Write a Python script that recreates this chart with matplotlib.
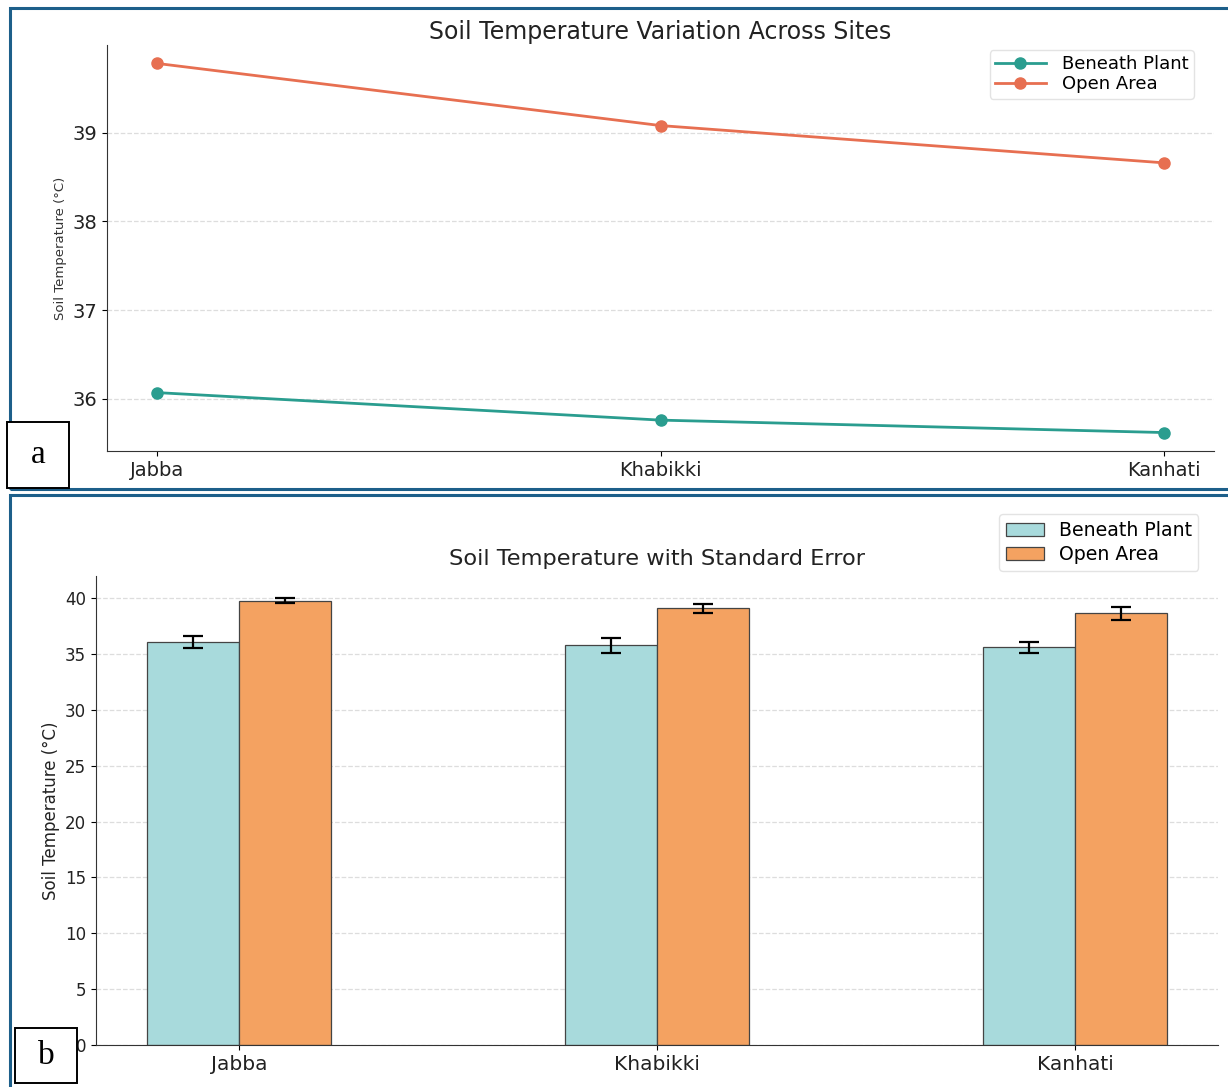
import numpy as np
import matplotlib.pyplot as plt
from matplotlib.patches import Rectangle

# Mean soil temperature (°C) per site and standard error
sites = ["Jabba", "Khabikki", "Kanhati"]
beneath_plant = [36.07, 35.76, 35.62]
open_area = [39.78, 39.08, 38.66]
beneath_se = [0.52, 0.69, 0.49]
open_se = [0.20, 0.39, 0.58]

teal_line = "#2a9d8f"
orange_line = "#e76f51"
teal_bar = "#a8dadc"
orange_bar = "#f4a261"
frame_col = "#1d5f8a"

W, H = 1228, 1087
fig = plt.figure(figsize=(W / 100, H / 100), dpi=100)

def fx(px):
    return px / W

def fy(px):
    return 1 - px / H

# panel frames
fig.patches.append(Rectangle((fx(10), fy(489)), fx(1240) - fx(10), fy(8) - fy(489),
                             transform=fig.transFigure, fill=False,
                             edgecolor=frame_col, lw=2.2, zorder=0))
fig.patches.append(Rectangle((fx(10), fy(1100)), fx(1240) - fx(10), fy(495) - fy(1100),
                             transform=fig.transFigure, fill=False,
                             edgecolor=frame_col, lw=2.2, zorder=0))

x = np.arange(len(sites))

# (a) line chart
ax1 = fig.add_axes([fx(107), fy(451), fx(1214) - fx(107), fy(45) - fy(451)])
ax1.plot(x, beneath_plant, marker="o", color=teal_line, lw=2, ms=8, label="Beneath Plant")
ax1.plot(x, open_area, marker="o", color=orange_line, lw=2, ms=8, label="Open Area")
ax1.set_xticks(x)
ax1.set_xticklabels(sites, fontsize=14, color="#222222")
ax1.set_yticks([36, 37, 38, 39])
ax1.tick_params(axis="y", labelsize=14, labelcolor="#222222")
ax1.set_ylabel("Soil Temperature (°C)", fontsize=9.5, color="#333333")
ax1.set_title("Soil Temperature Variation Across Sites", fontsize=17, color="#222222", pad=4)
ax1.grid(axis="y", linestyle="--", color="#dddddd", lw=0.9)
ax1.set_axisbelow(True)
for s in ["top", "right"]:
    ax1.spines[s].set_visible(False)
for s in ["left", "bottom"]:
    ax1.spines[s].set_color("#333333")
ax1.legend(loc="upper right", bbox_to_anchor=(0.99, 1.01), fontsize=13, frameon=True,
           edgecolor="#dddddd", labelspacing=0.1, handlelength=2.8,
           borderpad=0.3, handletextpad=0.9)

# (b) grouped bars with standard error
w = 0.22
ax2 = fig.add_axes([fx(96), fy(1045), fx(1218) - fx(96), fy(576) - fy(1045)])
ax2.bar(x - w / 2, beneath_plant, w, yerr=beneath_se, capsize=7, color=teal_bar,
        edgecolor="#444444", lw=0.9, label="Beneath Plant",
        error_kw=dict(elinewidth=1.6, capthick=1.6, ecolor="black"))
ax2.bar(x + w / 2, open_area, w, yerr=open_se, capsize=7, color=orange_bar,
        edgecolor="#444444", lw=0.9, label="Open Area",
        error_kw=dict(elinewidth=1.6, capthick=1.6, ecolor="black"))
ax2.set_xticks(x)
ax2.set_xticklabels(sites, fontsize=14.5, color="#222222")
ax2.tick_params(axis="y", labelsize=12, labelcolor="#222222")
ax2.set_ylabel("Soil Temperature (°C)", fontsize=12, color="#222222")
ax2.set_title("Soil Temperature with Standard Error", fontsize=16.2, color="#222222", pad=8)
ax2.grid(axis="y", linestyle="--", color="#dddddd", lw=0.9)
ax2.set_axisbelow(True)
for s in ["top", "right"]:
    ax2.spines[s].set_visible(False)
for s in ["left", "bottom"]:
    ax2.spines[s].set_color("#333333")
ax2.legend(loc="upper right", bbox_to_anchor=(0.991, 1.152), fontsize=13.6,
           frameon=True, edgecolor="#dddddd", labelspacing=0.28, borderpad=0.35)

# panel letters
for letter, (l, t, r, b) in [("a", (7, 422, 69, 488)), ("b", (15, 1028, 77, 1083))]:
    box = Rectangle((fx(l), fy(b)), fx(r) - fx(l), fy(t) - fy(b), transform=fig.transFigure,
                    facecolor="white", edgecolor="black", lw=1.4, zorder=5)
    fig.patches.append(box)
    fig.text(fx((l + r) / 2), fy((t + b) / 2), letter, ha="center", va="center",
             fontsize=24, family="Liberation Serif", zorder=6)

fig.savefig("out.png", dpi=100)
